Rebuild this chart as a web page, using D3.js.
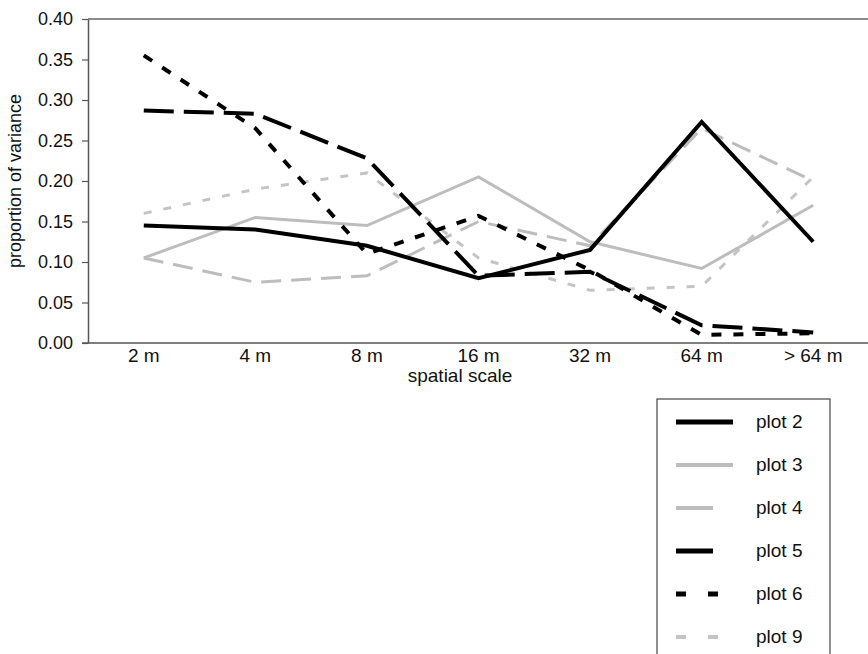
<!DOCTYPE html>
<html><head><meta charset="utf-8">
<script src="https://cdn.jsdelivr.net/npm/d3@7"></script>
<style>body{margin:0;background:#fff}svg{display:block}text{font-family:"Liberation Sans",Arial,sans-serif;fill:#111}</style>
</head><body>
<script>
const categories = ["2 m","4 m","8 m","16 m","32 m","64 m","> 64 m"];
const seriesNames = ["plot 2","plot 3","plot 4","plot 5","plot 6","plot 9"];
const plot2 = [0.145,0.140,0.120,0.080,0.115,0.273,0.125];
const plot3 = [0.105,0.155,0.145,0.205,0.125,0.092,0.170];
const plot4 = [0.105,0.075,0.083,0.150,0.120,0.265,0.200];
const plot5 = [0.287,0.283,0.228,0.083,0.088,0.022,0.013];
const plot6 = [0.355,0.265,0.110,0.157,0.090,0.010,0.012];
const plot9 = [0.160,0.190,0.210,0.105,0.065,0.070,0.205];
const yTicks = [0,0.05,0.10,0.15,0.20,0.25,0.30,0.35,0.40];

const styles = [
  {color:"#000", width:4, dash:null},
  {color:"#bdbdbd", width:3, dash:null},
  {color:"#bdbdbd", width:3, dash:"20,10"},
  {color:"#000", width:4, dash:"30,10"},
  {color:"#000", width:4, dash:"10,12"},
  {color:"#c4c4c4", width:3, dash:"8,12"}
];
const allSeries = [plot2,plot3,plot4,plot5,plot6,plot9];

const W=868,H=654;
const svg=d3.select("body").append("svg").attr("width",W).attr("height",H);
const x=d3.scaleBand().domain(categories).range([88,869]);
const y=d3.scaleLinear().domain([0,0.40]).range([343,19]);

svg.append("line").attr("x1",88).attr("x2",W).attr("y1",19).attr("y2",19).attr("stroke","#666").attr("stroke-width",1.5);
const yAxis=svg.append("g").attr("transform","translate(88,0)")
  .call(d3.axisLeft(y).tickValues(yTicks).tickFormat(d3.format(".2f")).tickSize(6).tickSizeOuter(0));
yAxis.attr("font-size",null).attr("font-family",null);
yAxis.select(".domain").attr("stroke","#555").attr("stroke-width",1.5);
yAxis.selectAll(".tick line").attr("stroke","#555").attr("stroke-width",1.2);
yAxis.selectAll(".tick text").style("font-size","18px").attr("x",-15).attr("fill","#111");
const xAxis=svg.append("g").attr("transform","translate(0,343)")
  .call(d3.axisBottom(x).tickSize(0).tickSizeOuter(0));
xAxis.attr("font-size",null).attr("font-family",null);
xAxis.select(".domain").attr("stroke","#555").attr("stroke-width",1.5).attr("d","M82,0H"+W);
xAxis.selectAll(".tick text").style("font-size","19px").attr("dy",null).attr("y",19).attr("fill","#111");

svg.append("text").attr("x",460).attr("y",382).attr("text-anchor","middle").style("font-size","19px").text("spatial scale");
svg.append("text").attr("transform","translate(21,181) rotate(-90)").attr("text-anchor","middle").style("font-size","18px").text("proportion of variance");

const line=d3.line().x((d,i)=>x(categories[i])+x.bandwidth()/2).y(d=>y(d));
const drawOrder=[2,5,1,4,3,0];
drawOrder.forEach(k=>{
  const s=styles[k];
  svg.append("path").datum(allSeries[k]).attr("d",line).attr("fill","none")
    .attr("stroke",s.color).attr("stroke-width",s.width).attr("stroke-dasharray",s.dash)
    .attr("stroke-linejoin","miter");
});

const lg=svg.append("g");
lg.append("rect").attr("x",657).attr("y",399).attr("width",173).attr("height",270).attr("fill","#fff").attr("stroke","#444").attr("stroke-width",1.2);
const legendLen=[57,57,37,37,42,42];
seriesNames.forEach((n,i)=>{
  const yy=422+i*43;
  const s=styles[i];
  const dash=(i===4||i===5)?"10,22":null;
  lg.append("line").attr("x1",676).attr("x2",676+legendLen[i]).attr("y1",yy).attr("y2",yy)
    .attr("stroke",s.color).attr("stroke-width",s.width+1).attr("stroke-dasharray",dash);
  lg.append("text").attr("x",756).attr("y",yy+6).style("font-size","19px").text(n);
});
</script>
</body></html>
